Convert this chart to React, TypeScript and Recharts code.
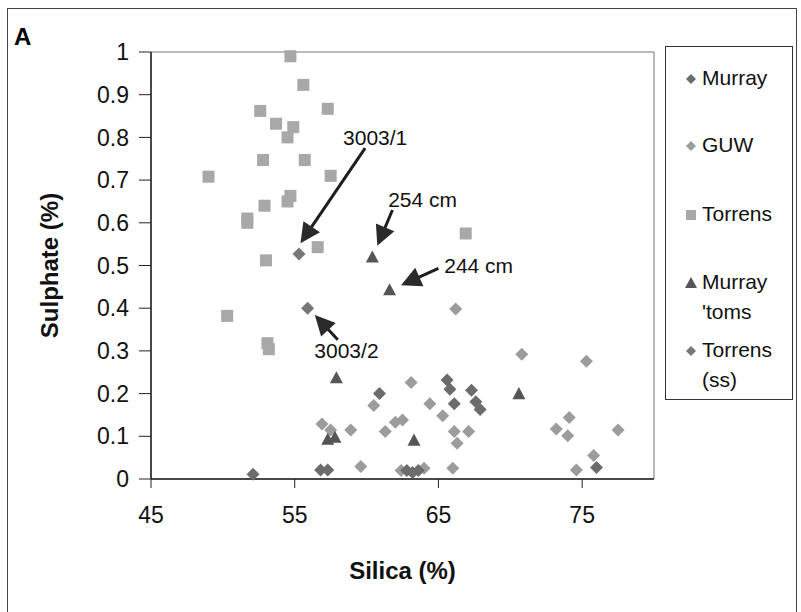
import React from 'react';
import { ScatterChart, Scatter, XAxis, YAxis, ReferenceArea, ReferenceLine, ReferenceDot } from 'recharts';

const FONT = "Arial, 'Liberation Sans', sans-serif";

// [silica, sulphate]
const murray = [
  [60.9, 0.2], [65.6, 0.232], [65.8, 0.21], [67.3, 0.208], [67.6, 0.181], [67.9, 0.163], [66.1, 0.176],
  [56.8, 0.021], [57.3, 0.021], [62.8, 0.02], [63.2, 0.015], [63.6, 0.02], [76.0, 0.027], [52.1, 0.011],
];
const guw = [
  [60.5, 0.172], [62.0, 0.133], [62.5, 0.138], [56.9, 0.129], [57.5, 0.115], [58.9, 0.115], [61.3, 0.111],
  [59.6, 0.029], [66.2, 0.398], [70.8, 0.292], [75.3, 0.276], [63.1, 0.226], [64.4, 0.176], [65.3, 0.148],
  [66.1, 0.111], [67.1, 0.111], [66.3, 0.084], [74.1, 0.144], [73.2, 0.117], [74.0, 0.101], [77.5, 0.115],
  [75.8, 0.055], [74.6, 0.021], [66.0, 0.025], [62.4, 0.02], [64.0, 0.025],
];
const torrens = [
  [54.7, 0.99], [55.6, 0.923], [52.6, 0.862], [57.3, 0.867], [53.7, 0.832], [54.9, 0.824], [54.5, 0.8],
  [52.8, 0.747], [55.7, 0.747], [49.0, 0.708], [57.5, 0.71], [54.7, 0.663], [54.5, 0.65], [52.9, 0.64],
  [51.7, 0.61], [51.7, 0.6], [56.6, 0.543], [53.0, 0.512], [50.3, 0.382], [53.1, 0.318], [53.2, 0.304],
  [66.9, 0.575],
];
const murrayToms = [[60.4, 0.52], [61.6, 0.443], [57.9, 0.237], [57.3, 0.093], [57.8, 0.098], [70.6, 0.2], [63.3, 0.091]];
const torrensSS = [[55.3, 0.527], [55.9, 0.4]];

const xTicks = [45, 55, 65, 75];
const yTicks = [0, 0.1, 0.2, 0.3, 0.4, 0.5, 0.6, 0.7, 0.8, 0.9, 1];

// label position, arrow start, arrow tip (data units)
const annotations = [
  { text: '3003/1', label: [60.6, 0.8], from: [59.9, 0.775], to: [55.4, 0.552] },
  { text: '254 cm', label: [63.9, 0.655], from: [61.8, 0.63], to: [60.75, 0.546] },
  { text: '244 cm', label: [67.8, 0.5], from: [65.0, 0.493], to: [62.4, 0.454] },
  { text: '3003/2', label: [58.6, 0.3], from: [58.0, 0.326], to: [56.4, 0.384] },
];

const toPts = (arr: number[][]) => arr.map(([x, y]) => ({ x, y }));

const COLORS = { murray: '#6c6c6c', guw: '#9c9c9c', torrens: '#a8a8a8', toms: '#555555', ss: '#777777' };

const diamond = (fill: string, r = 6.5) => (p: any) => (
  <polygon points={`${p.cx},${p.cy - r} ${p.cx + r},${p.cy} ${p.cx},${p.cy + r} ${p.cx - r},${p.cy}`} fill={fill} />
);
const square = (fill: string, s = 12) => (p: any) => (
  <rect x={p.cx - s / 2} y={p.cy - s / 2} width={s} height={s} fill={fill} />
);
const triangle = (fill: string, w = 13) => (p: any) => {
  const h = w * 0.85;
  return <polygon points={`${p.cx},${p.cy - h / 2 - 1} ${p.cx + w / 2},${p.cy + h / 2} ${p.cx - w / 2},${p.cy + h / 2}`} fill={fill} />;
};

const Arrow = (p: any) => {
  const { x1, y1, x2, y2 } = p;
  const dx = x2 - x1, dy = y2 - y1;
  const len = Math.sqrt(dx * dx + dy * dy);
  const ux = dx / len, uy = dy / len;
  const head = 20, half = 10;
  const bx = x2 - ux * head, by = y2 - uy * head;
  return (
    <g>
      <line x1={x1} y1={y1} x2={bx + ux * 2} y2={by + uy * 2} stroke="#1e1e1e" strokeWidth={3} />
      <polygon points={`${x2},${y2} ${bx - uy * half},${by + ux * half} ${bx + uy * half},${by - ux * half}`} fill="#2a2a2a" />
    </g>
  );
};

const legendItems = [
  { name: ['Murray'], icon: 'diamond', color: COLORS.murray, top: 16 },
  { name: ['GUW'], icon: 'diamond', color: COLORS.guw, top: 83 },
  { name: ['Torrens'], icon: 'square', color: COLORS.torrens, top: 152 },
  { name: ['Murray', "'toms"], icon: 'triangle', color: COLORS.toms, top: 220 },
  { name: ['Torrens', '(ss)'], icon: 'diamond', color: COLORS.ss, top: 288 },
];

const LegendBox = () => (
  <div style={{ position: 'absolute', left: 665, top: 46, width: 126, height: 352, border: '1px solid #333', background: '#fff', fontFamily: FONT, fontSize: 21, color: '#111' }}>
    {legendItems.map((it) => (
      <div key={it.name.join()} style={{ position: 'absolute', left: 36, top: it.top, lineHeight: '30px' }}>
        <svg width={14} height={14} style={{ position: 'absolute', left: -18, top: 9 }}>
          {it.icon === 'diamond' && <polygon points="7,2 12,7 7,12 2,7" fill={it.color} />}
          {it.icon === 'square' && <rect x={2} y={2} width={10} height={10} fill={it.color} />}
          {it.icon === 'triangle' && <polygon points="7,1 13,12 1,12" fill={it.color} />}
        </svg>
        {it.name.map((n) => <div key={n}>{n}</div>)}
      </div>
    ))}
  </div>
);

export default function App() {
  return (
    <div style={{ position: 'relative', width: 801, height: 612, background: '#fff', overflow: 'hidden' }}>
      <style>{`body{margin:0}`}</style>
      <div style={{ position: 'absolute', left: 7, top: 8, width: 788, height: 620, border: '1px solid #444', borderBottom: 'none' }} />
      <div style={{ position: 'absolute', left: 14, top: 23, fontFamily: FONT, fontWeight: 700, fontSize: 24 }}>A</div>
      <ScatterChart width={801} height={612} margin={{ top: 52, right: 147, bottom: 33, left: 41 }}>
        <XAxis
          type="number" dataKey="x" domain={[45, 80]} ticks={xTicks} height={100} interval={0}
          tickSize={9} tickMargin={19} axisLine={{ stroke: '#222', strokeWidth: 1.5 }} tickLine={{ stroke: '#222' }}
          tick={{ fill: '#111', fontSize: 23, fontFamily: FONT }}
          label={{ value: 'Silica (%)', position: 'insideBottom', offset: 0, fill: '#111', fontSize: 24, fontWeight: 700, fontFamily: FONT }}
        />
        <YAxis
          type="number" dataKey="y" domain={[0, 1]} ticks={yTicks} width={110} interval={0}
          tickSize={12} tickMargin={10} axisLine={{ stroke: '#222', strokeWidth: 1.5 }} tickLine={{ stroke: '#222' }}
          tick={{ fill: '#111', fontSize: 23, fontFamily: FONT }}
          label={{ value: 'Sulphate (%)', angle: -90, position: 'insideLeft', offset: 0, dx: 8, fill: '#111', fontSize: 24, fontWeight: 700, fontFamily: FONT, style: { textAnchor: 'middle' } }}
        />
        <ReferenceArea x1={45} x2={80} y1={0} y2={1} fill="none" stroke="#777" strokeWidth={1} />
        <Scatter name="Torrens" data={toPts(torrens)} shape={square(COLORS.torrens)} isAnimationActive={false} />
        <Scatter name="GUW" data={toPts(guw)} shape={diamond(COLORS.guw)} isAnimationActive={false} />
        <Scatter name="Murray" data={toPts(murray)} shape={diamond(COLORS.murray)} isAnimationActive={false} />
        <Scatter name="Torrens (ss)" data={toPts(torrensSS)} shape={diamond(COLORS.ss)} isAnimationActive={false} />
        <Scatter name="Murray 'toms" data={toPts(murrayToms)} shape={triangle(COLORS.toms)} isAnimationActive={false} />
        {annotations.map((a) => (
          <ReferenceLine key={'l' + a.text} segment={[{ x: a.from[0], y: a.from[1] }, { x: a.to[0], y: a.to[1] }]} shape={Arrow} ifOverflow="visible" />
        ))}
        {annotations.map((a) => (
          <ReferenceDot
            key={'t' + a.text} x={a.label[0]} y={a.label[1]} r={0}
            shape={(p: any) => (
              <text x={p.cx} y={p.cy} textAnchor="middle" dominantBaseline="central" fontSize={21} fontFamily={FONT} fill="#111">{a.text}</text>
            )}
          />
        ))}
      </ScatterChart>
      <LegendBox />
    </div>
  );
}
